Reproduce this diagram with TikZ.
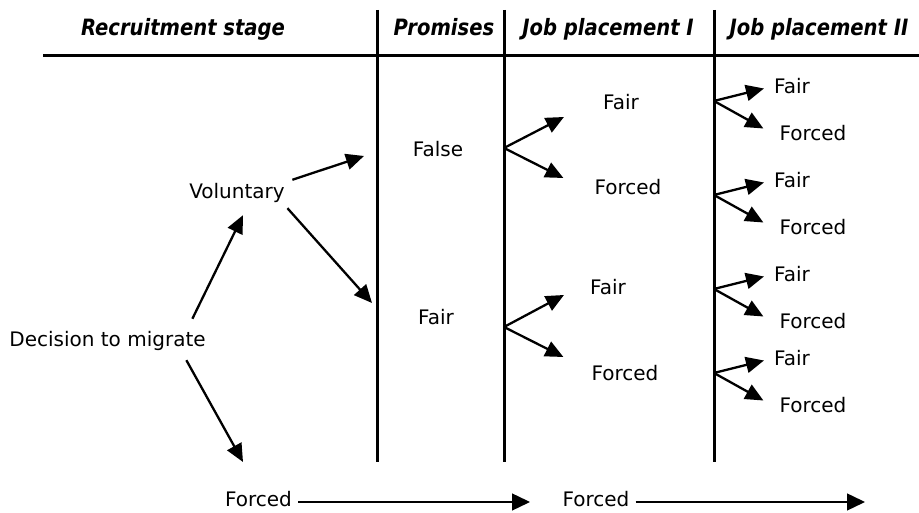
\documentclass[tikz,border=0pt]{standalone}
\usepackage{fontspec}
\setmainfont{DejaVu Sans}
\newfontfamily\headfont[FakeStretch=0.87]{DejaVu Sans}
\usetikzlibrary{arrows.meta}

\begin{document}
\begin{tikzpicture}[x=1pt, y=1pt,
	lbl/.style = {font=\fontsize{20}{24}\selectfont, text height=15pt, text depth=5pt, inner sep=2pt},
	head/.style = {font=\headfont\fontsize{22.5}{26}\selectfont\bfseries\itshape, text height=17pt, text depth=5pt, inner sep=2pt},
	rule/.style = {line width=3pt},
	branch/.style = {line width=2.3pt, -{Triangle[length=18pt, width=16pt]}},
	timeline/.style = {line width=1.4pt, -{Triangle[length=18pt, width=17pt]}}]
	
	\useasboundingbox (0,0) rectangle (919,513);
	
	% We will draw the column headings and the rules here
	\node[head] (recruit)  at (183,483) {Recruitment stage};
	\node[head] (promises) at (444,483) {Promises};
	\node[head] (jobI)     at (608,483) {Job placement I};
	\node[head] (jobII)    at (819,483) {Job placement II};
	
	\draw[rule] (43,457) -- (919,457);
	\foreach \x in {377.5,504,714}
		\draw[rule] (\x,503) -- (\x,51);
	
	% recruitment stage
	\node[lbl] (decision)  at (107.5,171) {Decision to migrate};
	\node[lbl] (voluntary) at (237,319) {Voluntary};
	\coordinate (forcedend) at (243,51);
	
	\draw[branch] ([shift={(-15.5,11)}]decision.north east) -- ([shift={(6,-9)}]voluntary.south);
	\draw[branch] ([shift={(-21.5,-6)}]decision.south east) -- (forcedend);
	
	% promises
	\node[lbl] (false)   at (438,361) {False};
	\node[lbl] (fairpro) at (436,193) {Fair};
	\coordinate (tofalse) at (364,357);
	\coordinate (tofair)  at (372,210);
	
	\draw[branch] ([shift={(5.5,2)}]voluntary.north east) -- (tofalse);
	\draw[branch] ([shift={(0.5,-2)}]voluntary.south east) -- (tofair);
	
	% job placement I
	\node[lbl] (fairA)   at (621,408) {Fair};
	\node[lbl] (forcedA) at (628,323) {Forced};
	\node[lbl] (fairB)   at (608,223) {Fair};
	\node[lbl] (forcedB) at (625,137) {Forced};
	\coordinate (splitA) at (504,365);
	\coordinate (splitB) at (504,186);
	
	\draw[branch] (splitA) -- ([shift={(-37,-12)}]fairA.west);
	\draw[branch] (splitA) -- ([shift={(-29,12)}]forcedA.west);
	\draw[branch] (splitB) -- ([shift={(-24,-5)}]fairB.west);
	\draw[branch] (splitB) -- ([shift={(-26,19)}]forcedB.west);
	
	% job placement II
	\foreach \y [count=\i] in {412,318,224,140} {
		\coordinate (split\i) at (714,\y);
		\node[lbl] (fairII\i)   at (792,\y+12.5) {Fair};
		\node[lbl] (forcedII\i) at (813,\y-34.5) {Forced};
		\draw[branch] (split\i) -- ([shift={(-8,0)}]fairII\i.west);
		\draw[branch] (split\i) -- ([shift={(-14,7)}]forcedII\i.west);
	}
	
	% forced all the way through
	\node[lbl] (forcedI)   at (258.5,11.5) {Forced};
	\node[lbl] (forcedIII) at (596,11.5) {Forced};
	\coordinate (endI)  at (530,11);
	\coordinate (endII) at (865,11);
	
	\draw[timeline] ([shift={(4,-0.5)}]forcedI.east) -- (endI);
	\draw[timeline] ([shift={(4,-0.5)}]forcedIII.east) -- (endII);
	
\end{tikzpicture}
\end{document}
